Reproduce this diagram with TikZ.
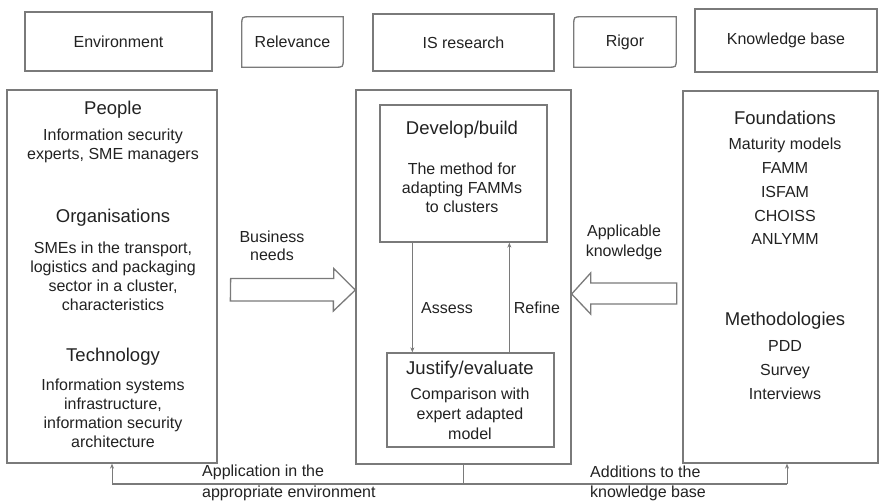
\documentclass[tikz,border=0pt]{standalone}
\usepackage{fontspec}
\setmainfont{Liberation Sans}
\usetikzlibrary{calc,arrows.meta}
\definecolor{linegray}{HTML}{7A7A7A}
\definecolor{textcol}{HTML}{222222}
\begin{document}
\begin{tikzpicture}[x=1pt,y=-1pt,
  box/.style={draw=linegray,line width=1.3pt,inner sep=0pt},
  toptxt/.style={font=\fontsize{16}{19}\selectfont,text=textcol},
  txt/.style={font=\fontsize{16}{19}\selectfont,text=textcol,align=center,inner sep=0pt},
  widetxt/.style={font=\fontsize{16}{23.8}\selectfont,text=textcol,align=center,inner sep=0pt},
  head/.style={font=\fontsize{18.5}{21}\selectfont,text=textcol,inner sep=0pt},
  lbl/.style={font=\fontsize{16}{19}\selectfont,text=textcol,inner sep=0pt},
  thinarrow/.style={draw=linegray,line width=0.8pt,-{Stealth[length=5pt,width=4pt]}},
  blockarrow/.style={draw=linegray,line width=1.3pt,fill=white,line join=miter},
]
\useasboundingbox[fill=white] (0,0) rectangle (879,501);

% ---- top row ----
\node[box,toptxt,minimum width=187pt,minimum height=59pt] (envt) at (118.5,41.5) {Environment};
\node[toptxt,minimum width=101pt,minimum height=50pt,inner sep=0pt] (rel) at (292.5,42) {Relevance};
\draw[draw=linegray,line width=1.3pt]
  (rel.south west) -- ($(rel.north west)+(0,8)$) .. controls (rel.north west) .. ($(rel.north west)+(8,0)$)
  -- (rel.north east) -- ($(rel.south east)+(0,-8)$) .. controls (rel.south east) .. ($(rel.south east)+(-8,0)$)
  -- cycle;
\node[box,toptxt,minimum width=181pt,minimum height=57pt] (isr) at (463.5,42.5) {IS research};
\node[toptxt,minimum width=102pt,minimum height=50pt,inner sep=0pt] (rig) at (625,42) {Rigor};
\draw[draw=linegray,line width=1.3pt]
  (rig.south west) -- ($(rig.north west)+(0,8)$) .. controls (rig.north west) .. ($(rig.north west)+(8,0)$)
  -- (rig.north east) -- ($(rig.south east)+(0,-8)$) .. controls (rig.south east) .. ($(rig.south east)+(-8,0)$)
  -- cycle;
\node[box,toptxt,minimum width=182pt,minimum height=63pt] (kbt) at (786,40.5) {Knowledge base};

% ---- big boxes ----
\node[box,minimum width=210pt,minimum height=373pt] (env) at (112,276.5) {};
\node[box,minimum width=215pt,minimum height=374pt] (is) at (463.5,277) {};
\node[box,minimum width=195pt,minimum height=372pt] (kb) at (780.5,277) {};

% ---- environment texts ----
\node[head] (people) at (113,110) {People};
\node[txt] (peopletx) at (113,145.5) {Information security\\experts, SME managers};
\node[head] (org) at (113,218) {Organisations};
\node[txt] (orgtx) at (113,276.5) {SMEs in the transport,\\logistics and packaging\\sector in a cluster,\\characteristics};
\node[head] (tech) at (113,357) {Technology};
\node[txt] (techtx) at (113,413) {Information systems\\infrastructure,\\information security\\architecture};

% ---- knowledge base texts ----
\node[head] (found) at (785,118) {Foundations};
\node[widetxt] (foundtx) at (785,191.5) {Maturity models\\FAMM\\ISFAM\\CHOISS\\ANLYMM};
\node[head] (meth) at (785,321) {Methodologies};
\node[widetxt] (methtx) at (785,370) {PDD\\Survey\\Interviews};

% ---- IS research inner ----
\node[box,minimum width=167pt,minimum height=137pt] (dev) at (463.5,173.5) {};
\node[head] (devh) at (462,130) {Develop/build};
\node[txt] (devtx) at (462,188) {The method for\\adapting FAMMs\\to clusters};
\node[box,minimum width=167pt,minimum height=94pt] (just) at (470.5,400) {};
\node[head] (justh) at (470,370) {Justify/evaluate};
\node[txt,font=\fontsize{16}{20}\selectfont] (justtx) at (470,414) {Comparison with\\expert adapted\\model};

\draw[thinarrow] ($(dev.south west)+(33,0)$) coordinate (a1) -- (a1 |- just.north);
\draw[thinarrow] ($(just.north west)+(123,0)$) coordinate (r1) -- (r1 |- dev.south);
\node[lbl] (assess) at (447,308) {Assess};
\node[lbl] (refine) at (537,308) {Refine};

% ---- block arrows ----
\draw[blockarrow] ($(env.east)+(13,2)$) coordinate (b0) -- ++(103,0) -- ++(0,-10) -- (is.west |- 0,290) -- ++(-22,21) -- ++(0,-10) -- ++(-103,0) -- cycle;
\node[txt,font=\fontsize{16}{18}\selectfont] (bn) at (272,246) {Business\\needs};

\draw[blockarrow] (is.east |- 0,294) coordinate (k0) -- ++(19,-21) -- ++(0,10) -- ++(86,0) -- ++(0,21) -- ++(-86,0) -- ++(0,10) -- cycle;
\node[txt,font=\fontsize{16}{20}\selectfont] (ak) at (624,242) {Applicable\\knowledge};

% ---- bottom feedback ----
\coordinate (bl) at (env.south |- 0,484);
\coordinate (br) at (kb.south -| 787,0);
\draw[draw=linegray,line width=1.3pt] (is.south) -- (is.south |- 0,484);
\draw[draw=linegray,line width=1.3pt] (bl) -- (br |- 0,484);
\draw[thinarrow] (bl) -- (env.south);
\draw[thinarrow] (br |- 0,484) -- (br);
\node[lbl,anchor=west] (app1) at (202,472) {Application in the};
\node[lbl,anchor=west] (app2) at (202,493) {appropriate environment};
\node[lbl,anchor=west] (add1) at (590,472) {Additions to the};
\node[lbl,anchor=west] (add2) at (590,493) {knowledge base};
\end{tikzpicture}
\end{document}
